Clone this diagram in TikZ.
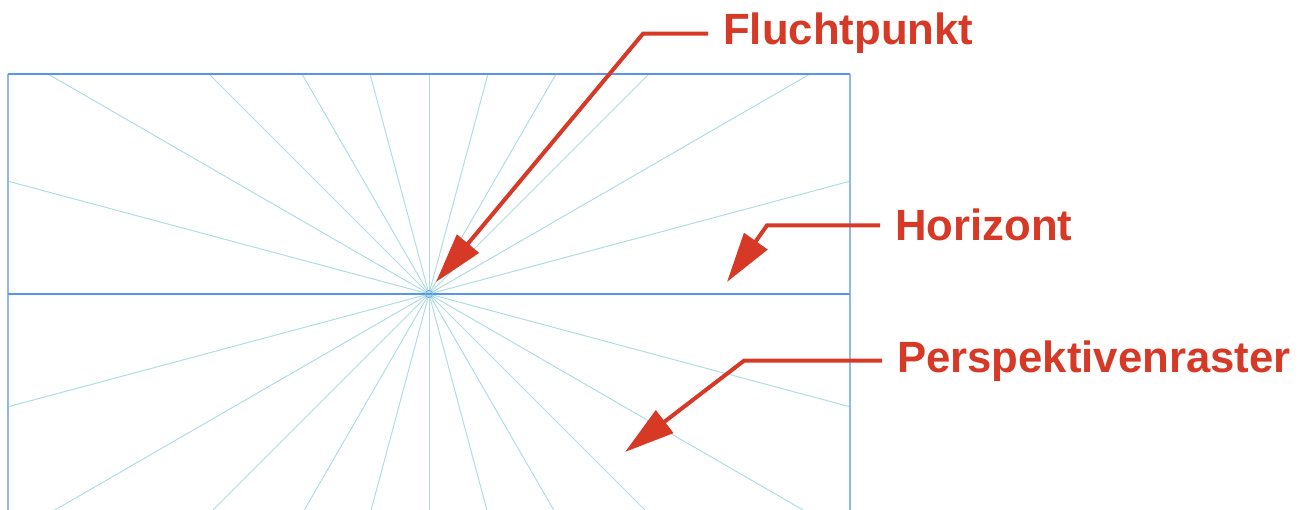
\documentclass[tikz,border=0pt]{standalone}
\usepackage{fontspec}
\setmainfont{Liberation Sans}
\usetikzlibrary{arrows.meta}
\definecolor{frameblue}{RGB}{88,150,236}
\definecolor{sideblue}{RGB}{140,185,245}
\definecolor{raycyan}{RGB}{176,221,226}
\definecolor{calloutred}{RGB}{214,58,38}
\begin{document}
\begin{tikzpicture}[x=1pt,y=-1pt,
  ray/.style={draw=raycyan, line width=1pt},
  frameline/.style={draw=frameblue, line width=1.7pt},
  sideline/.style={draw=sideblue, line width=1.1pt},
  label/.style={font=\fontsize{43.7}{50}\selectfont\bfseries, text=calloutred,
    anchor=base west, inner xsep=15pt, inner ysep=0pt},
  callout/.style={draw=calloutred, line width=4pt, line join=miter,
    -{Triangle[length=50pt,width=28pt]}},
]
\useasboundingbox (0,0) rectangle (1306,510);

% vanishing point on the horizon
\coordinate (vp) at (429,294);

% perspective grid: rays every 15 degrees, clipped to the frame
\begin{scope}
  \clip (8,74) rectangle (850,530);
  \foreach \a in {15,30,...,165,195,210,...,345}
    \draw[ray] (vp) -- ++(\a:1400);
\end{scope}

% frame and horizon
\draw[sideline] (8,530) -- (8,74);
\draw[sideline] (850,74) -- (850,530);
\draw[frameline] (8,74) -- (850,74);
\draw[frameline] (8,294) -- (850,294);
\draw[draw=frameblue!70!raycyan, line width=0.9pt] (vp) circle[radius=3.6];

% labels
\node[label] (fp) at (708,45) {Fluchtpunkt};
\node[label] (hz) at (880,241) {Horizont};
\node[label] (pr) at (882,372) {Perspektivenraster};

% callout arrows
\coordinate (fpbend) at (643,0);
\coordinate (fptip)  at (436,282);
\coordinate (hzbend) at (767,0);
\coordinate (hztip)  at (727,282);
\coordinate (prbend) at (744,0);
\coordinate (prtip)  at (625,452);

\draw[callout] (fp.west) -- (fp.west -| fpbend) -- (fptip);
\draw[callout] (hz.west) -- (hz.west -| hzbend) -- (hztip);
\draw[callout] (pr.west) -- (pr.west -| prbend) -- (prtip);
\end{tikzpicture}
\end{document}
